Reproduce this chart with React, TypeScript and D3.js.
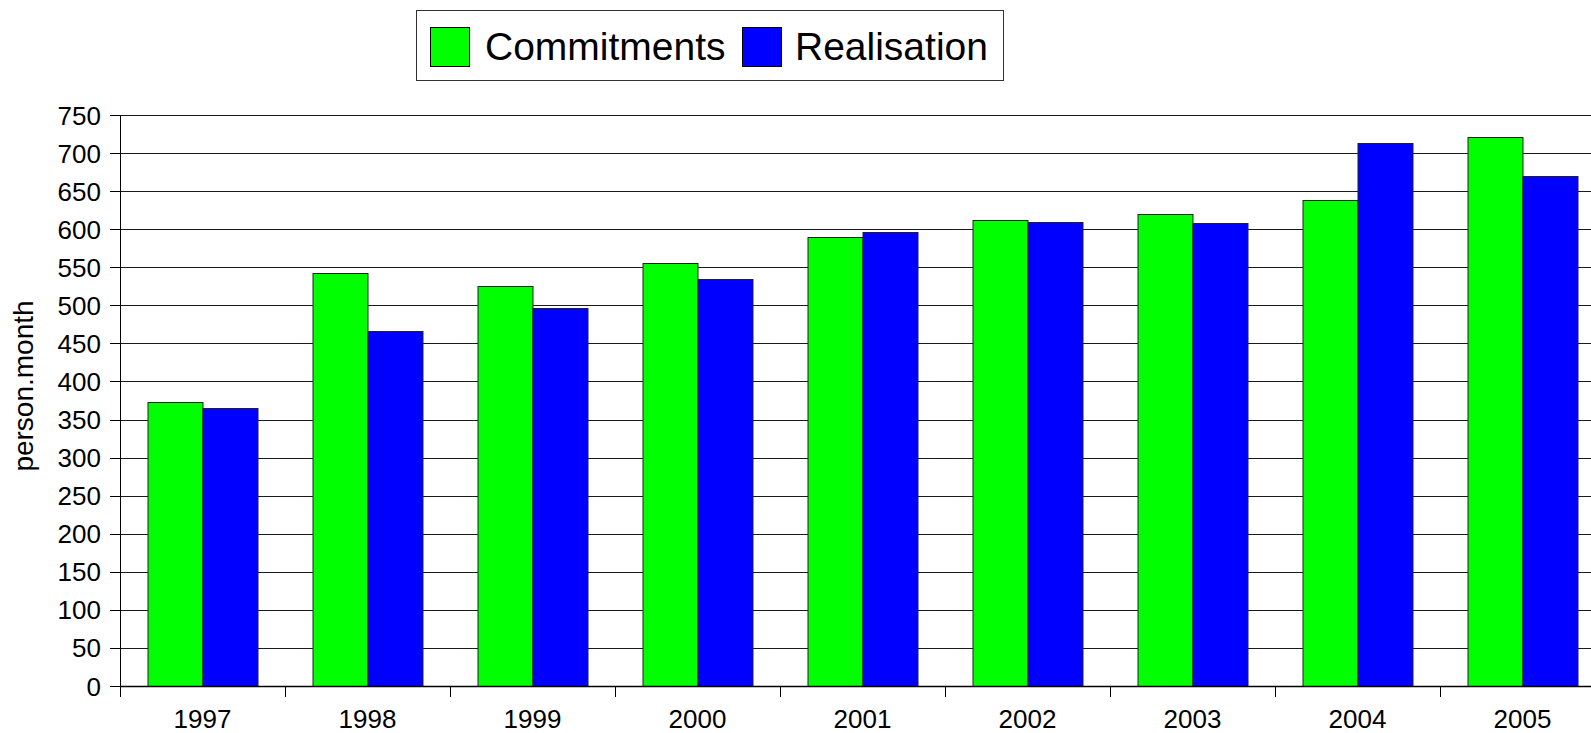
import React, { useEffect, useRef } from 'react';
import * as d3 from 'd3';

const years = ['1997', '1998', '1999', '2000', '2001', '2002', '2003', '2004', '2005'];
const commitments = [373, 542, 526, 555, 590, 612, 620, 639, 721];
const realisation = [365, 466, 497, 534, 596, 610, 608, 713, 670];
const seriesNames = ['Commitments', 'Realisation'];
const seriesColors = ['#00ff00', '#0000ff'];
const yTicks = d3.range(0, 751, 50);

const font = '"Liberation Sans", Arial, sans-serif';

const App: React.FC = () => {
  const svgRef = useRef<SVGSVGElement | null>(null);

  useEffect(() => {
    if (!svgRef.current) return;
    const width = 1591;
    const height = 733;
    const left = 120;
    const top = 115;
    const bottom = 686;

    const svg = d3.select(svgRef.current);
    svg.selectAll('*').remove();
    svg.attr('width', width).attr('height', height);

    const x0 = d3.scaleBand<string>().domain(years).range([left, left + 165 * years.length]);
    const x1 = d3
      .scaleBand<string>()
      .domain(seriesNames)
      .range([0, x0.bandwidth()])
      .paddingInner(0)
      .paddingOuter(0.5);
    const y = d3.scaleLinear().domain([0, 750]).range([bottom, top]);

    // gridlines
    svg
      .append('g')
      .selectAll('line')
      .data(yTicks.filter((d) => d > 0))
      .enter()
      .append('line')
      .attr('x1', left)
      .attr('x2', width)
      .attr('y1', (d) => Math.round(y(d)) + 0.5)
      .attr('y2', (d) => Math.round(y(d)) + 0.5)
      .attr('stroke', '#1a1a1a')
      .attr('stroke-width', 1);

    // bars
    const data = years.map((yr, i) => ({ yr, vals: [commitments[i], realisation[i]] }));
    const groups = svg
      .append('g')
      .selectAll('g')
      .data(data)
      .enter()
      .append('g')
      .attr('transform', (d) => `translate(${x0(d.yr)},0)`);

    groups
      .selectAll('rect')
      .data((d) => d.vals.map((v, k) => ({ v, k })))
      .enter()
      .append('rect')
      .attr('x', (d) => (x1(seriesNames[d.k]) as number) + 0.5)
      .attr('y', (d) => Math.round(y(d.v)) + 0.5)
      .attr('width', x1.bandwidth())
      .attr('height', (d) => bottom - Math.round(y(d.v)))
      .attr('fill', (d) => seriesColors[d.k])
      .attr('stroke', '#222')
      .attr('stroke-width', 1);

    // y axis
    const yAxis = svg.append('g');
    yAxis
      .append('line')
      .attr('x1', left + 0.5)
      .attr('x2', left + 0.5)
      .attr('y1', top)
      .attr('y2', bottom + 10)
      .attr('stroke', '#000');
    yAxis
      .selectAll('line.tick')
      .data(yTicks)
      .enter()
      .append('line')
      .attr('class', 'tick')
      .attr('x1', left - 10)
      .attr('x2', left)
      .attr('y1', (d) => Math.round(y(d)) + 0.5)
      .attr('y2', (d) => Math.round(y(d)) + 0.5)
      .attr('stroke', '#000');
    yAxis
      .selectAll('text')
      .data(yTicks)
      .enter()
      .append('text')
      .attr('x', 101)
      .attr('y', (d) => y(d) + 9.5)
      .attr('text-anchor', 'end')
      .style('font-family', font)
      .style('font-size', '26px')
      .text((d) => d);

    // x axis
    const xAxis = svg.append('g');
    xAxis
      .append('line')
      .attr('x1', left)
      .attr('x2', width)
      .attr('y1', bottom + 0.5)
      .attr('y2', bottom + 0.5)
      .attr('stroke', '#000')
      .attr('stroke-width', 1.5);
    xAxis
      .selectAll('line.tick')
      .data(d3.range(years.length + 1))
      .enter()
      .append('line')
      .attr('class', 'tick')
      .attr('x1', (i) => left + i * x0.step() + 0.5)
      .attr('x2', (i) => left + i * x0.step() + 0.5)
      .attr('y1', bottom)
      .attr('y2', bottom + 11)
      .attr('stroke', '#000');
    xAxis
      .selectAll('text')
      .data(years)
      .enter()
      .append('text')
      .attr('x', (d) => (x0(d) as number) + x0.bandwidth() / 2)
      .attr('y', 728)
      .attr('text-anchor', 'middle')
      .style('font-family', font)
      .style('font-size', '26px')
      .text((d) => d);

    // y title
    svg
      .append('text')
      .attr('transform', 'translate(33,386) rotate(-90)')
      .attr('text-anchor', 'middle')
      .style('font-family', font)
      .style('font-size', '28px')
      .text('person.month');

    // legend
    const legend = svg.append('g');
    legend
      .append('rect')
      .attr('x', 416.5)
      .attr('y', 10.5)
      .attr('width', 587)
      .attr('height', 70)
      .attr('fill', '#fff')
      .attr('stroke', '#333');
    const swatchX = [430, 742];
    const textX = [485, 795];
    seriesNames.forEach((name, k) => {
      legend
        .append('rect')
        .attr('x', swatchX[k] + 0.5)
        .attr('y', 27.5)
        .attr('width', 39)
        .attr('height', 39)
        .attr('fill', seriesColors[k])
        .attr('stroke', '#000');
      legend
        .append('text')
        .attr('x', textX[k])
        .attr('y', 60)
        .style('font-family', font)
        .style('font-size', '39px')
        .text(name);
    });
  }, []);

  return (
    <svg
      ref={svgRef}
      style={{ position: 'absolute', left: 0, top: 0, display: 'block', background: '#fff' }}
    ></svg>
  );
};

export default App;
